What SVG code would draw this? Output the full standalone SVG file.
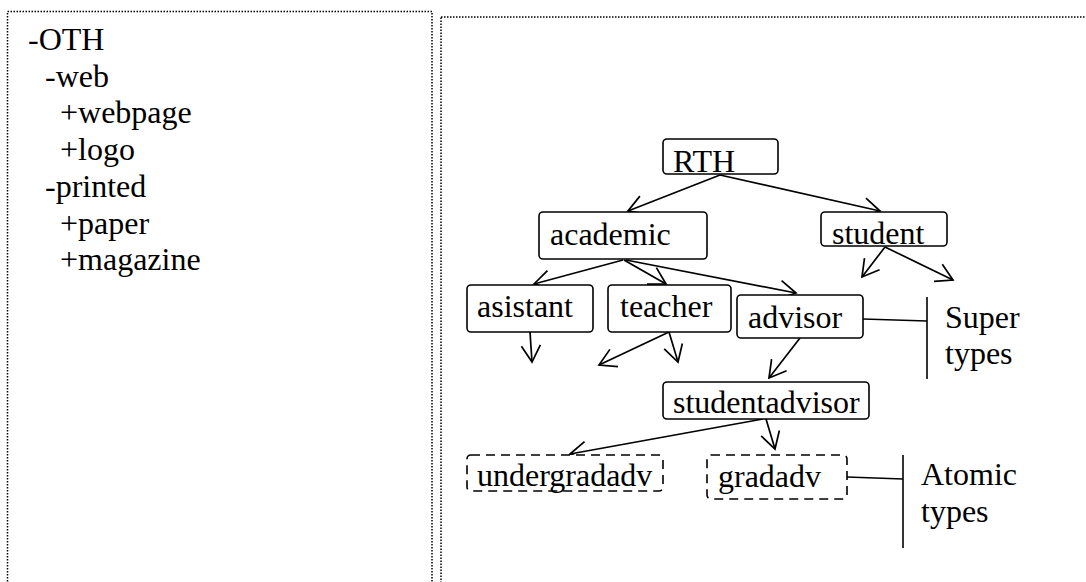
<svg xmlns="http://www.w3.org/2000/svg" width="1086" height="582" viewBox="0 0 1086 582">
  <style>
    text { font-family: "Liberation Serif", "Times New Roman", serif; font-size: 32px; fill: #000; }
    .panel { fill: none; stroke: #000; stroke-width: 1.5; stroke-dasharray: 1.5 1.5; }
    .box { fill: #fff; stroke: #000; stroke-width: 1.6; }
    .atomic { fill: #fff; stroke: #000; stroke-width: 1.6; stroke-dasharray: 9 6; }
    .edge { fill: none; stroke: #000; stroke-width: 1.7; marker-end: url(#vee); }
    .bracket { fill: none; stroke: #000; stroke-width: 1.6; }
  </style>
  <defs>
    <!-- open V arrowhead -->
    <marker id="vee" markerUnits="userSpaceOnUse" viewBox="-20 -12 24 24" markerWidth="24" markerHeight="24" refX="0" refY="0" orient="auto">
      <path d="M -16.5 -9.5 L 0 0 L -16.5 9.5" fill="none" stroke="#000" stroke-width="1.7"/>
    </marker>
  </defs>
  <rect width="1086" height="582" fill="#fff"/>

  <!-- left panel: type hierarchy as an outline -->
  <g id="outline-panel">
    <rect class="panel" x="7.5" y="11.5" width="424.5" height="600"/>
    <text x="28" y="50">-OTH</text>
    <text x="45" y="86.7">-web</text>
    <text x="60" y="123.4">+webpage</text>
    <text x="60" y="160.1">+logo</text>
    <text x="45" y="196.8">-printed</text>
    <text x="60" y="233.5">+paper</text>
    <text x="60" y="270.2">+magazine</text>
  </g>

  <!-- right panel frame -->
  <g id="tree-panel">
    <rect class="panel" x="441" y="17" width="700" height="600"/>
  </g>

  <!-- connectors -->
  <g id="connectors">
    <line class="edge" x1="720" y1="175" x2="628" y2="211"/>
    <line class="edge" x1="720" y1="175" x2="880" y2="211"/>
    <line class="edge" x1="623" y1="260" x2="534" y2="284"/>
    <line class="edge" x1="624" y1="260" x2="666" y2="284"/>
    <line class="edge" x1="626" y1="260" x2="796" y2="293"/>
    <line class="edge" x1="885" y1="247" x2="862" y2="277"/>
    <line class="edge" x1="885" y1="247" x2="953" y2="280"/>
    <line class="edge" x1="530" y1="332" x2="532" y2="362"/>
    <line class="edge" x1="669" y1="332" x2="599" y2="365"/>
    <line class="edge" x1="669" y1="332" x2="678" y2="362"/>
    <line class="edge" x1="800" y1="338" x2="769" y2="378"/>
    <line class="edge" x1="763" y1="419" x2="570" y2="454"/>
    <line class="edge" x1="766" y1="419" x2="775" y2="449"/>
    <!-- brackets to the group labels -->
    <polyline class="bracket" points="863,319 927,321"/>
    <line class="bracket" x1="927" y1="297" x2="927" y2="379"/>
    <polyline class="bracket" points="847,477 903,479"/>
    <line class="bracket" x1="903" y1="455" x2="903" y2="548"/>
  </g>

  <g id="node-rth">
    <rect class="box" x="663" y="139" width="115" height="35" rx="4"/>
    <text x="673" y="171.5">RTH</text>
  </g>
  <g id="node-academic">
    <rect class="box" x="539" y="212" width="168" height="47" rx="4"/>
    <text x="550" y="245">academic</text>
  </g>
  <g id="node-student">
    <rect class="box" x="821" y="212" width="126" height="34" rx="4"/>
    <text x="832" y="243.5">student</text>
  </g>
  <g id="node-asistant">
    <rect class="box" x="467" y="285" width="126" height="47" rx="4"/>
    <text x="477" y="317">asistant</text>
  </g>
  <g id="node-teacher">
    <rect class="box" x="608" y="285" width="123" height="47" rx="4"/>
    <text x="620" y="317">teacher</text>
  </g>
  <g id="node-advisor">
    <rect class="box" x="737" y="295" width="126" height="43" rx="4"/>
    <text x="748" y="327.5">advisor</text>
  </g>
  <g id="node-studentadvisor">
    <rect class="box" x="663" y="382" width="206" height="37" rx="4"/>
    <text x="673" y="413">studentadvisor</text>
  </g>
  <g id="node-undergradadv">
    <rect class="atomic" x="467" y="455" width="196" height="36" rx="4"/>
    <text x="477" y="486">undergradadv</text>
  </g>
  <g id="node-gradadv">
    <rect class="atomic" x="707" y="455" width="140" height="44" rx="4"/>
    <text x="718" y="486.5">gradadv</text>
  </g>

  <g id="label-super">
    <text x="945" y="327.5">Super</text>
    <text x="945" y="364">types</text>
  </g>
  <g id="label-atomic">
    <text x="921" y="484.5">Atomic</text>
    <text x="921" y="521.5">types</text>
  </g>
</svg>
